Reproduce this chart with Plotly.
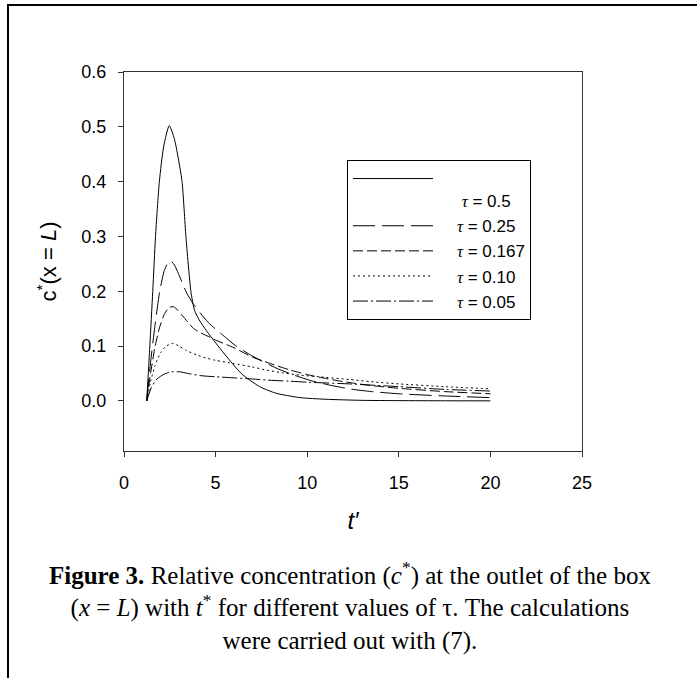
import plotly.graph_objects as go

# ---------------- data ----------------
t_050 = [1.24, 1.41, 1.57, 1.72, 1.93, 2.17, 2.47, 2.75, 2.95, 3.17, 3.38, 3.65, 3.85, 4.1, 4.5,
         5.0, 5.5, 6.4, 7.4, 8.3, 9.6, 11.0, 13.0, 15.0, 17.5, 20.0]
c_050 = [0.0, 0.10, 0.20, 0.30, 0.40, 0.465, 0.502, 0.478, 0.445, 0.40, 0.30, 0.20, 0.165, 0.148, 0.128,
         0.106, 0.085, 0.050, 0.026, 0.014, 0.006, 0.003, 0.001, 0.0005, 0.0002, 0.0001]

t_025 = [1.24, 1.45, 1.7, 1.95, 2.2, 2.4, 2.56, 2.75, 2.96, 3.2, 3.42, 3.8, 4.17, 4.6, 5.0, 5.5,
         6.08, 7.0, 8.3, 9.2, 10.2, 11.2, 12.3, 13.5, 15.0, 17.5, 20.0]
c_025 = [0.0, 0.07, 0.14, 0.20, 0.238, 0.252, 0.255, 0.248, 0.233, 0.214, 0.197, 0.176, 0.160, 0.143, 0.131, 0.117,
         0.101, 0.082, 0.060, 0.048, 0.037, 0.029, 0.022, 0.017, 0.013, 0.009, 0.006]

t_0167 = [1.24, 1.45, 1.7, 1.95, 2.2, 2.45, 2.69, 2.95, 3.2, 3.5, 3.8, 4.2, 4.7, 5.0, 5.5, 6.0,
          7.0, 8.0, 9.0, 10.0, 11.0, 12.0, 13.5, 15.0, 17.5, 20.0]
c_0167 = [0.0, 0.05, 0.10, 0.135, 0.158, 0.170, 0.172, 0.165, 0.155, 0.143, 0.132, 0.124, 0.116, 0.111, 0.104, 0.097,
          0.080, 0.068, 0.057, 0.048, 0.041, 0.035, 0.028, 0.023, 0.017, 0.013]

t_010 = [1.24, 1.45, 1.7, 2.0, 2.3, 2.69, 3.0, 3.4, 3.96, 4.5, 5.0, 6.0, 7.0, 7.8, 8.7, 9.6,
         11.0, 12.3, 13.5, 15.0, 17.5, 20.0]
c_010 = [0.0, 0.035, 0.065, 0.088, 0.100, 0.105, 0.100, 0.092, 0.084, 0.078, 0.074, 0.068, 0.062, 0.056, 0.051, 0.047,
         0.043, 0.039, 0.035, 0.031, 0.026, 0.022]

t_005 = [1.24, 1.5, 1.8, 2.2, 2.6, 3.05, 3.5, 4.2, 5.0, 6.0, 7.0, 7.8, 9.0, 10.1, 12.3, 15.0, 17.5, 20.0]
c_005 = [0.0, 0.025, 0.040, 0.049, 0.053, 0.053, 0.050, 0.046, 0.044, 0.042, 0.040, 0.038, 0.036, 0.034, 0.031,
         0.026, 0.021, 0.018]

TAU = "<i><span style='font-family:Liberation Serif'>τ</span></i>"
series_names = ["&nbsp;<br>&nbsp;&nbsp;&nbsp;&nbsp;&nbsp;" + TAU + " = 0.5",
                "&nbsp;&nbsp;&nbsp;&nbsp;" + TAU + " = 0.25",
                "&nbsp;&nbsp;&nbsp;&nbsp;" + TAU + " = 0.167",
                "&nbsp;&nbsp;&nbsp;&nbsp;" + TAU + " = 0.10",
                "&nbsp;&nbsp;&nbsp;&nbsp;" + TAU + " = 0.05"]
x_ticks = [0, 5, 10, 15, 20, 25]
y_ticks = [0.0, 0.1, 0.2, 0.3, 0.4, 0.5, 0.6]
y_tick_labels = ["0.0", "0.1", "0.2", "0.3", "0.4", "0.5", "0.6"]

# ---------------- layout geometry (pixels) ----------------
W, H = 697, 678
PL, PR, PT, PB = 124, 582, 72, 451   # plot area edges


def px(xp):
    return (xp - PL) / (PR - PL)


def py(yp):
    return (PB - yp) / (PB - PT)


dashes = ["solid", "22px,7px", "10px,4px", "2px,3px", "15px,3px,2px,3px"]
xs = [t_050, t_025, t_0167, t_010, t_005]
ys = [c_050, c_025, c_0167, c_010, c_005]

fig = go.Figure()
for name, x, y, d in zip(series_names, xs, ys, dashes):
    fig.add_trace(go.Scatter(
        x=x, y=y, mode="lines", name=name,
        line=dict(color="black", width=1, dash=d, shape="spline", smoothing=0.6),
    ))

SANS = "Liberation Sans, Arial, sans-serif"
axis_font = dict(family=SANS, size=18, color="black")

fig.update_layout(
    width=W, height=H,
    margin=dict(l=PL, r=W - PR, t=PT, b=H - PB, pad=0),
    paper_bgcolor="white", plot_bgcolor="white",
    font=dict(family=SANS, color="black"),
    showlegend=True,
    legend=dict(
        x=px(347), y=py(160), xanchor="left", yanchor="top",
        bgcolor="white", bordercolor="black", borderwidth=1,
        font=dict(family=SANS, size=17, color="black"),
        itemwidth=80, tracegroupgap=0, valign="top",
    ),
    xaxis=dict(
        range=[0, 25], tickvals=x_ticks, ticks="outside", ticklen=5, tickcolor="#333",
        showline=True, linecolor="#333", linewidth=1, mirror=True,
        showgrid=False, zeroline=False, tickfont=axis_font, ticklabelstandoff=10,
        title=dict(text="<i>t′</i>", font=dict(family=SANS, size=24), standoff=20),
    ),
    yaxis=dict(
        range=[-0.0914, 0.6], tickvals=y_ticks, ticktext=y_tick_labels,
        ticks="outside", ticklen=5, tickcolor="#333",
        showline=True, linecolor="#333", linewidth=1, mirror=True,
        showgrid=False, zeroline=False, tickfont=axis_font, ticklabelstandoff=8,
        title=dict(text="c<sup>*</sup>(x = <i>L</i>)", font=dict(family=SANS, size=22),
                   standoff=18),
    ),
)

# outer frame (open to the right and bottom, as in the cropped reference)
fig.add_shape(type="rect", xref="paper", yref="paper",
              x0=px(8), x1=px(720), y0=py(700), y1=py(5),
              line=dict(color="black", width=2), layer="below")

cap_font = dict(family="Liberation Serif, Times New Roman, serif", size=25, color="black")
caption = [
    "<b>Figure 3.</b> Relative concentration (<i>c</i><sup>*</sup>) at the outlet of the box",
    "(<i>x</i> = <i>L</i>) with <i>t</i><sup>*</sup> for different values of τ. The calculations",
    "were carried out with (7).",
]
fig.add_annotation(text="<br>".join(caption), xref="paper", yref="paper", x=px(350), y=py(606),
                   xanchor="center", yanchor="middle", align="center", showarrow=False,
                   font=cap_font)

fig.write_html("out.html", config={"displayModeBar": False},
               post_script="document.body.style.margin='0';")
